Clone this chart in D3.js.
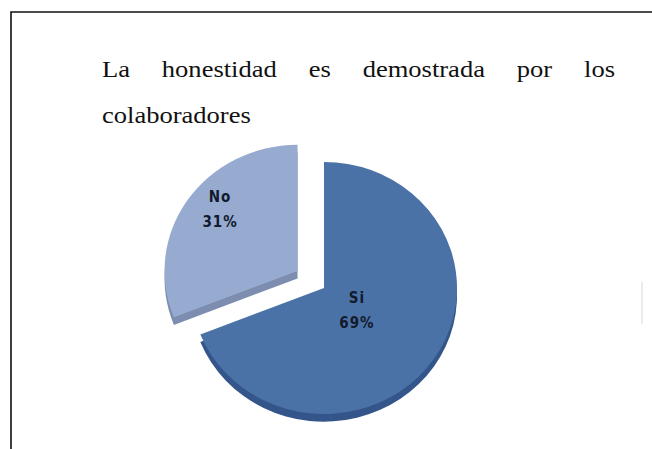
<!DOCTYPE html>
<html>
<head>
<meta charset="utf-8">
<script src="https://cdn.jsdelivr.net/npm/d3@7"></script>
<style>
  html, body { margin: 0; padding: 0; background: #fff; }
  svg { display: block; }
</style>
</head>
<body>
<div id="app"></div>
<script>
// data
const categories = ["Si", "No"];
const percents = [69, 31];
const titleLine1 = "La honestidad es demostrada por los";
const titleLine2 = "colaboradores";

const width = 652, height = 449;

const svg = d3.select("#app")
  .append("svg")
  .attr("width", width)
  .attr("height", height);

// frame (only top and left edges show)
svg.append("path")
  .attr("d", "M11,449 L11,12 L652,12")
  .attr("fill", "none")
  .attr("stroke", "#111")
  .attr("stroke-width", 1.6);

// faint mark at right
svg.append("line")
  .attr("x1", 642).attr("x2", 642)
  .attr("y1", 282).attr("y2", 324)
  .attr("stroke", "#e4e4e4")
  .attr("stroke-width", 1.5);

// title, justified on first line (text is stretched horizontally)
const sx = 1.18;
const left = 102 / sx, right = 615 / sx;
const titleG = svg.append("g").attr("transform", "scale(" + sx + ",1)");

const words = titleLine1.split(" ");
const wordSel = titleG.selectAll("text.w")
  .data(words)
  .enter()
  .append("text")
  .attr("class", "w")
  .attr("y", 77)
  .style("font-family", "Liberation Serif, Times New Roman, serif")
  .style("font-size", "22.5px")
  .attr("fill", "#111")
  .text((d) => d);

const widths = [];
wordSel.each(function () { widths.push(this.getComputedTextLength()); });
const gap = (right - left - d3.sum(widths)) / (words.length - 1);
let cx = left;
wordSel.attr("x", (d, i) => {
  const x = cx;
  cx += widths[i] + gap;
  return x;
});

titleG.append("text")
  .attr("x", left)
  .attr("y", 123)
  .style("font-family", "Liberation Serif, Times New Roman, serif")
  .style("font-size", "22.5px")
  .attr("fill", "#111")
  .text(titleLine2);

// pie
const r = 133;
const depth = 8;
const sy = 0.948;
const pie = d3.pie().sort(null).value((d) => d.value);
const arcs = pie(categories.map((c, i) => ({ name: c, value: percents[i] })));
const arc = d3.arc().innerRadius(0).outerRadius(r);

const topColor = { Si: "#4a72a6", No: "#97abd0" };
const sideColor = { Si: "#34558a", No: "#7d8db0" };
const explode = { Si: 0, No: 32 };
const labelR = { Si: 0.3, No: 0.75 };
const nudge = { Si: [0, -3], No: [5, -13] };

const pieG = svg.append("g")
  .attr("transform", "translate(324,288) scale(1," + sy + ")");

function offset(d) {
  const a = (d.startAngle + d.endAngle) / 2;
  const e = explode[d.data.name];
  return [Math.sin(a) * e, -Math.cos(a) * e];
}

const slices = pieG.selectAll("g.slice")
  .data(arcs)
  .enter()
  .append("g")
  .attr("class", "slice")
  .attr("transform", (d) => "translate(" + offset(d) + ")");

slices.append("path")
  .attr("d", arc)
  .attr("transform", "translate(0," + depth + ")")
  .attr("fill", (d) => sideColor[d.data.name]);

slices.append("path")
  .attr("d", arc)
  .attr("fill", (d) => topColor[d.data.name]);

const labels = slices.append("text")
  .attr("transform", (d) => {
    const a = (d.startAngle + d.endAngle) / 2;
    const lr = r * labelR[d.data.name];
    const n = nudge[d.data.name];
    return "translate(" + (Math.sin(a) * lr + n[0]) + "," + (-Math.cos(a) * lr + n[1] / sy) +
      ") scale(1," + (1 / sy) + ")";
  })
  .attr("text-anchor", "middle")
  .style("font-family", "DejaVu Sans Condensed, DejaVu Sans, sans-serif")
  .style("font-weight", "bold")
  .style("font-size", "15px")
  .attr("letter-spacing", 1)
  .attr("fill", "#121a2c");

labels.append("tspan")
  .attr("x", 0)
  .attr("dy", -3)
  .text((d) => d.data.name);

labels.append("tspan")
  .attr("x", 0)
  .attr("dy", 25)
  .text((d) => d.data.value + "%");
</script>
</body>
</html>
